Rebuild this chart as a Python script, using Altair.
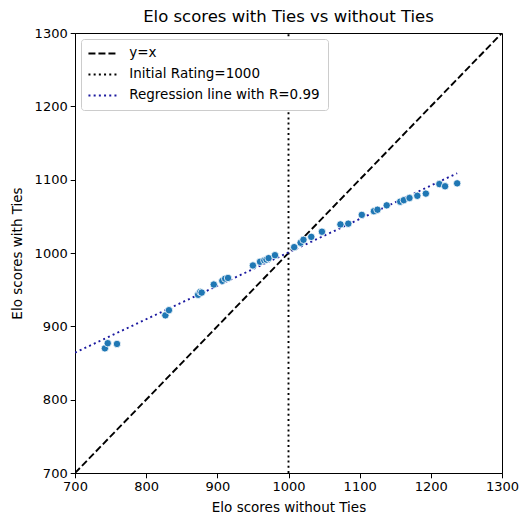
import altair as alt
import pandas as pd

# DATA ---------------------------------------------------
elo_without_ties = [742, 746, 759, 827, 832, 873, 876, 878, 895, 907, 911, 915,
                    950, 960, 966, 969, 972, 981, 1008, 1017, 1021, 1032, 1047,
                    1073, 1084, 1103, 1120, 1125, 1138, 1157, 1162, 1170, 1181,
                    1193, 1212, 1220, 1237]
elo_with_ties = [870, 877, 876, 915, 922, 943, 947, 946, 957, 962, 965, 966,
                 983, 988, 990, 991, 993, 997, 1008, 1014, 1018, 1022, 1029,
                 1039, 1040, 1052, 1057, 1059, 1065, 1070, 1072, 1075, 1078,
                 1081, 1094, 1091, 1095]

series_names = ['y=x', 'Initial Rating=1000', 'Regression line with R=0.99']
series_colors = ['black', 'black', '#1c1aa0']
series_dashes = [[7, 3], [2, 3.2], [2, 3.2]]

ref_x = [700, 1300, 1000, 1000]
ref_y = [700, 1300, 700, 1300]
ref_series = [series_names[0], series_names[0], series_names[1], series_names[1]]

ticks = [700, 800, 900, 1000, 1100, 1200, 1300]

df_points = pd.DataFrame({'without': elo_without_ties, 'with': elo_with_ties})
df_ref = pd.DataFrame({'without': ref_x, 'with': ref_y, 'series': ref_series})

# PLOTTING -----------------------------------------------
x_enc = alt.X('without:Q', title='Elo scores without Ties',
              scale=alt.Scale(domain=[700, 1300], nice=False),
              axis=alt.Axis(values=ticks, format='d', labelFlush=False, titlePadding=7))
y_enc = alt.Y('with:Q', title='Elo scores with Ties',
              scale=alt.Scale(domain=[700, 1300], nice=False),
              axis=alt.Axis(values=ticks, format='d', labelFlush=False, titlePadding=10))

# legend symbol: a long line segment drawn to the right of a small symbol slot
legend_opts = dict(title=None, orient='none', legendX=6, legendY=6)
color_enc = alt.Color('series:N', scale=alt.Scale(domain=series_names, range=series_colors),
                      legend=alt.Legend(**legend_opts))
dash_enc = alt.StrokeDash('series:N', scale=alt.Scale(domain=series_names, range=series_dashes),
                          legend=alt.Legend(**legend_opts))

ref_lines = alt.Chart(df_ref).mark_line(strokeWidth=1.9, clip=True).encode(
    x=x_enc, y=y_enc, color=color_enc, strokeDash=dash_enc, detail='series:N'
)

reg_line = alt.Chart(df_points).transform_regression(
    'without', 'with', extent=[700, 1237]
).transform_calculate(
    series="'" + series_names[2] + "'"
).mark_line(strokeWidth=1.9, clip=True).encode(
    x=x_enc, y=y_enc, color=color_enc, strokeDash=dash_enc
)

points = alt.Chart(df_points).mark_circle(
    size=55, opacity=1, color='#1f77b4', stroke='white', strokeWidth=0.8
).encode(x=x_enc, y=y_enc)

chart = (ref_lines + reg_line + points).properties(
    width=427, height=440,
    title=alt.TitleParams('Elo scores with Ties vs without Ties', fontSize=16.5,
                          fontWeight='normal', color='black', offset=2),
    autosize=alt.AutoSizeParams(type='none'),
    padding={'left': 67, 'top': 25, 'right': 19, 'bottom': 45}
).configure(
    font='DejaVu Sans'
).configure_view(
    stroke='black', strokeWidth=1
).configure_axis(
    grid=False, domainColor='black', tickColor='black', tickSize=4.8,
    labelFontSize=13, labelColor='black', titleFontSize=13.5,
    titleFontWeight='normal', titleColor='black', labelPadding=3
).configure_legend(
    symbolType='M-1.4,0H4.2', symbolSize=100, symbolStrokeWidth=1.9,
    labelFontSize=13.5, labelColor='black', rowPadding=6, labelLimit=400,
    strokeColor='#cccccc', fillColor='white', cornerRadius=3,
    padding=7.7, labelOffset=27
)

chart.save('out.html', embed_options={'renderer': 'svg', 'actions': False})
